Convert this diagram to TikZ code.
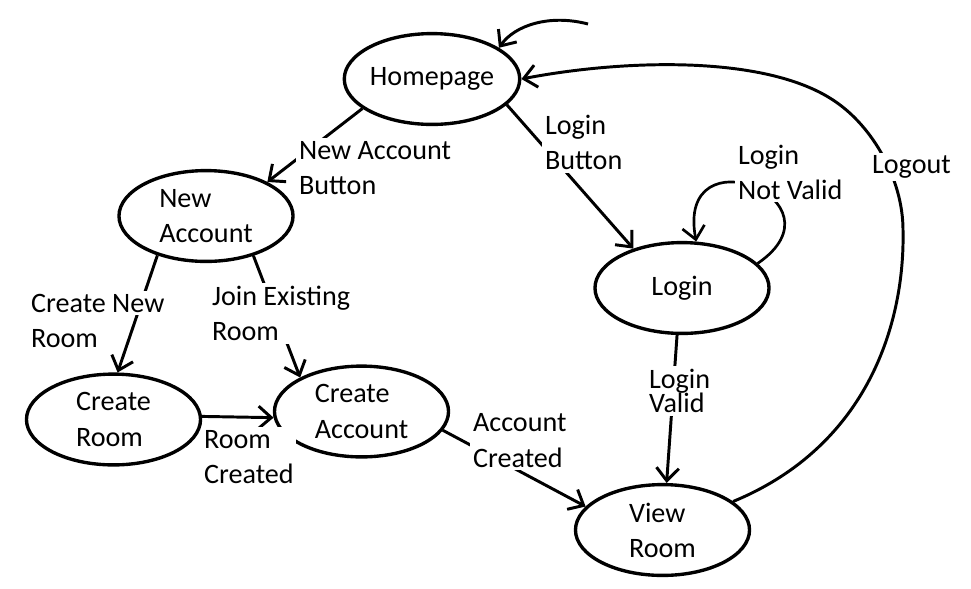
\documentclass[tikz,border=0pt]{standalone}
\usepackage{fontspec}
\setmainfont{Carlito}
\usetikzlibrary{arrows.meta,shapes.geometric}
\tikzset{
  state/.style={ellipse,draw,line width=2.4pt,minimum width=4.35cm,
                minimum height=2.27cm,inner sep=0pt,align=left},
  trans/.style={-{Straight Barb[length=3.2mm,width=5.6mm]},line width=2.1pt},
  lbl/.style={fill=white,inner sep=2pt,align=left,anchor=west},
}
\newcommand{\wbox}[1]{{\setlength{\fboxsep}{2pt}\hspace*{-2pt}\colorbox{white}{#1}}}

\begin{document}
\begin{tikzpicture}[x=0.025cm,y=-0.025cm,font=\fontsize{20}{25}\selectfont]
  \useasboundingbox (0,0) rectangle (971,588);
  % states
  \node[state] (home)  at (432,79)    {Homepage};
  \node[state] (newacc) at (206,216)  {New\\Account};
  \node[state] (login) at (682,288)   {Login};
  \node[state] (croom) at (113.5,419.5) {Create\\Room};
  \node[state] (cacc)  at (361.5,411.5) {Create\\Account};
  \node[state] (view)  at (662.5,530) {View\\Room};
  % start
  \coordinate (init) at (588,24);
  \draw[trans] (init) .. controls (550,14) and (515,25) .. (home.25);
  % transitions
  \draw[trans] (home.203) -- (newacc.29);
  \draw[trans] (home.341) -- (login.141);
  \draw[trans] (newacc.219) -- (croom.85);
  \draw[trans] (newacc.320) -- (cacc.151);
  \draw[trans] (croom.2) -- (cacc.184);
  \draw[trans] (cacc.347) -- (view.163);
  \draw[trans] (login.264) -- (view.85);
  \draw[trans,line width=1.9pt] (login.18) .. controls (850,200) and (675,130) .. (login.73);
  \draw[trans] (view.22) .. controls (870,445) and (905,320) .. (903,230)
     .. controls (903,180) and (873,126) .. (833,100)
     .. controls (763,54) and (620,60) .. (home.east);
  % labels
  \node[lbl] (lnab) at (296,168) {New Account\\Button};
  \node[lbl] (llb)  at (542,142.5) {Login\\Button};
  \node[lbl] (llnv) at (735,172) {Login\\Not Valid};
  \node[lbl,font={\fontsize{20}{17.6}\selectfont\lineskiplimit=-10pt}] (llv) at (646,391) {Login\\Valid};
  \node[lbl,fill=none] (lcnr) at (28,319.5) {\wbox{Create New}\\Room};
  \node[lbl] (ljer) at (209,313.5) {Join Existing\\Room};
  \node[lbl] (lrc)  at (201,457) {Room\\Created};
  \node[lbl] (lac)  at (470,440.5) {Account\\Created};
  \node[lbl] (llo)  at (869,167) {Logout};
\end{tikzpicture}
\end{document}
